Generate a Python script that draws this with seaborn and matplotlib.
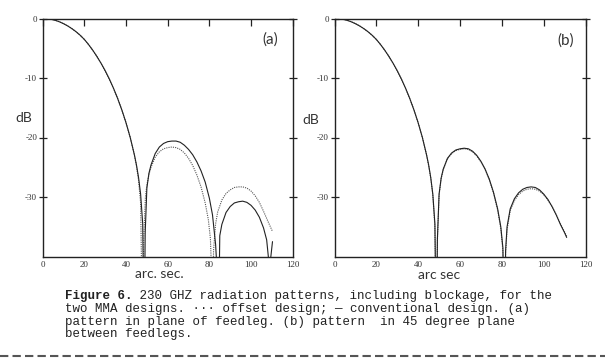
import matplotlib
matplotlib.use("Agg")
import matplotlib.pyplot as plt
from matplotlib.lines import Line2D
import seaborn as sns

# values (arc sec vs dB)

main_x = [0, 2, 4, 6, 8, 10, 12, 14, 16, 18, 20, 22, 24, 26, 28, 30, 32, 34,
          36, 38, 40, 42, 44]
main_db = [0, -0.03, -0.13, -0.30, -0.55, -0.87, -1.25, -1.70, -2.22, -2.82,
           -3.52, -4.37, -5.32, -6.37, -7.52, -8.79, -10.19, -11.74, -13.46,
           -15.38, -17.53, -19.98, -22.9]

# panel (a): plane of feedleg
a_conv_x = main_x + [45, 46, 47, 48.0, 48.7,
                     49.2, 50, 51, 52, 54, 56, 58, 60, 62, 64, 66, 68, 70, 72,
                     74, 76, 78, 80, 81.5, 83, 83.8, 84.3,
                     85, 86, 88, 90, 92, 94, 96, 98, 100, 102, 104, 106, 107.5,
                     108.3, 108.7, 109.2, 110.3]
a_conv_db = main_db + [-24.6, -26.7, -29.5, -34.5, -55,
                       -36, -28.5, -26, -24.6, -22.7, -21.6, -21.0, -20.7,
                       -20.6, -20.6, -20.8, -21.3, -22.0, -22.9, -24.1, -25.6,
                       -27.5, -30.2, -33, -38, -43, -55,
                       -36.5, -34.6, -32.6, -31.6, -31.0, -30.8, -30.7, -30.9,
                       -31.4, -32.2, -33.4, -35.2, -37.2, -40, -55, -41, -37.5]

a_off_x = main_x + [45, 46, 47, 48.0,
                    48.5, 49.3, 50, 51, 52, 54, 56, 58, 60, 62, 64, 66, 68, 70,
                    72, 74, 76, 78, 79.5, 80.5, 81.0, 81.5,
                    82, 83, 84, 86, 88, 90, 92, 94, 96, 98, 100, 102, 104, 106,
                    108, 110.3]
a_off_db = main_db + [-24.8, -27.2, -31.0, -55,
                      -37, -30, -28, -26.2, -25.0, -23.3, -22.4, -21.9, -21.7,
                      -21.6, -21.7, -22.0, -22.6, -23.5, -24.7, -26.3, -28.3,
                      -31.0, -33.8, -37, -42, -55,
                      -39, -34.5, -32.5, -30.5, -29.4, -28.8, -28.4, -28.3,
                      -28.3, -28.5, -29.0, -29.8, -30.9, -32.4, -34.0, -35.8]

# panel (b): 45 degree plane between feedlegs
b_conv_x = main_x + [45, 46, 47, 48.0, 48.7,
                     49.2, 50, 51, 52, 54, 56, 58, 60, 62, 64, 66, 68, 70, 72,
                     74, 76, 78, 79.5, 80.5, 81.3,
                     81.8, 82.5, 84, 86, 88, 90, 92, 94, 96, 98, 100, 102, 104,
                     106, 108, 110, 111]
b_conv_db = main_db + [-24.6, -26.7, -29.5, -34.5, -55,
                       -37, -29.5, -26.8, -25.3, -23.5, -22.6, -22.1, -21.9,
                       -21.8, -21.9, -22.3, -23.0, -24.0, -25.3, -27.0, -29.2,
                       -32.0, -35, -38.5, -55,
                       -39, -35, -32.0, -30.3, -29.3, -28.7, -28.4, -28.3,
                       -28.4, -28.8, -29.5, -30.4, -31.6, -33.0, -34.6, -36.0,
                       -36.8]

b_off_x = b_conv_x
b_off_db = main_db + [-24.7, -26.8, -29.7, -35.0, -55,
                      -37.3, -29.7, -26.9, -25.4, -23.6, -22.7, -22.2, -22.0,
                      -21.9, -22.0, -22.4, -23.1, -24.1, -25.4, -27.1, -29.3,
                      -32.2, -35.3, -39, -55,
                      -39.5, -35.5, -32.3, -30.6, -29.6, -29.0, -28.7, -28.6,
                      -28.7, -29.0, -29.6, -30.5, -31.6, -33.0, -34.5, -35.9,
                      -36.6]

x_ticks = [0, 20, 40, 60, 80, 100, 120]
y_ticks = [0, -10, -20, -30]

caption = [
    "two MMA designs. \u00b7\u00b7\u00b7 offset design; \u2014 conventional design. (a)",
    "pattern in plane of feedleg. (b) pattern  in 45 degree plane",
    "between feedlegs.",
]

sns.set_style("white")
plt.rcParams['font.family'] = ['Liberation Serif', 'DejaVu Serif']
plt.rcParams['axes.unicode_minus'] = False

W, H = 605, 359
fig = plt.figure(figsize=(W / 100, H / 100), dpi=100)
fig.patch.set_facecolor('white')

ax_a = fig.add_axes([42.7 / W, 1 - 256.5 / H, 250 / W, 238 / H])
ax_b = fig.add_axes([334.5 / W, 1 - 256.5 / H, 251 / W, 238 / H])

panels = [
    (ax_a, a_conv_x, a_conv_db, a_off_x, a_off_db),
    (ax_b, b_conv_x, b_conv_db, b_off_x, b_off_db),
]
for ax, cx, cy, ox, oy in panels:
    sns.lineplot(x=ox, y=oy, ax=ax, color='#555555', linewidth=0.8,
                 linestyle=(0, (1, 1)))
    sns.lineplot(x=cx, y=cy, ax=ax, color='#222222', linewidth=0.8)
    ax.set_xlim(0, 120)
    ax.set_ylim(-40, 0)
    ax.set_xticks(x_ticks)
    ax.set_yticks(y_ticks)
    ax.set_xlabel("")
    ax.set_ylabel("")
    for s in ax.spines.values():
        s.set_color('#222222')
        s.set_linewidth(1.0)
    ax.tick_params(axis='both', direction='in', length=5, width=0.9,
                   colors='#222222', labelsize=6.5, top=True, right=True,
                   labelcolor='#333333')
    ax.tick_params(axis='y', which='both', left=True, direction='inout',
                   length=6, pad=1)
    ax.tick_params(axis='x', pad=3)

hand = ['Lato', 'DejaVu Sans']


def ftext(x, y, s, **kw):
    fig.text(x / W, 1 - y / H, s, **kw)


ftext(24, 118, "dB", fontsize=10, family=hand, color='#333333',
      ha='center', va='center')
ftext(311, 120, "dB", fontsize=10, family=hand, color='#333333',
      ha='center', va='center')
ftext(159, 274, "arc. sec.", fontsize=10, family=hand, color='#333333',
      ha='center', va='center')
ftext(439, 275, "arc sec", fontsize=10, family=hand, color='#333333',
      ha='center', va='center')
ftext(270, 40, "(a)", fontsize=11, family=hand, color='#333333',
      ha='center', va='center')
ftext(566, 41, "(b)", fontsize=11, family=hand, color='#333333',
      ha='center', va='center')

mono = ['Liberation Mono', 'DejaVu Sans Mono']
fs = 9.0
cw = 0.6 * fs * 100 / 72
ftext(65, 296.5, "Figure 6.", fontsize=fs, family=mono, weight='bold',
      color='#222222', va='center')
ftext(65 + 9 * cw, 296.5,
      " 230 GHZ radiation patterns, including blockage, for the",
      fontsize=fs, family=mono, color='#222222', va='center')
for i, line in enumerate(caption):
    ftext(65, 309 + 12.5 * i, line, fontsize=fs, family=mono,
          color='#222222', va='center')

fig.add_artist(Line2D([0, 1], [1 - 356 / H, 1 - 356 / H],
                      transform=fig.transFigure, color='#555555',
                      linewidth=1.5, linestyle=(0, (4, 2))))

fig.savefig("out.png", dpi=100)
